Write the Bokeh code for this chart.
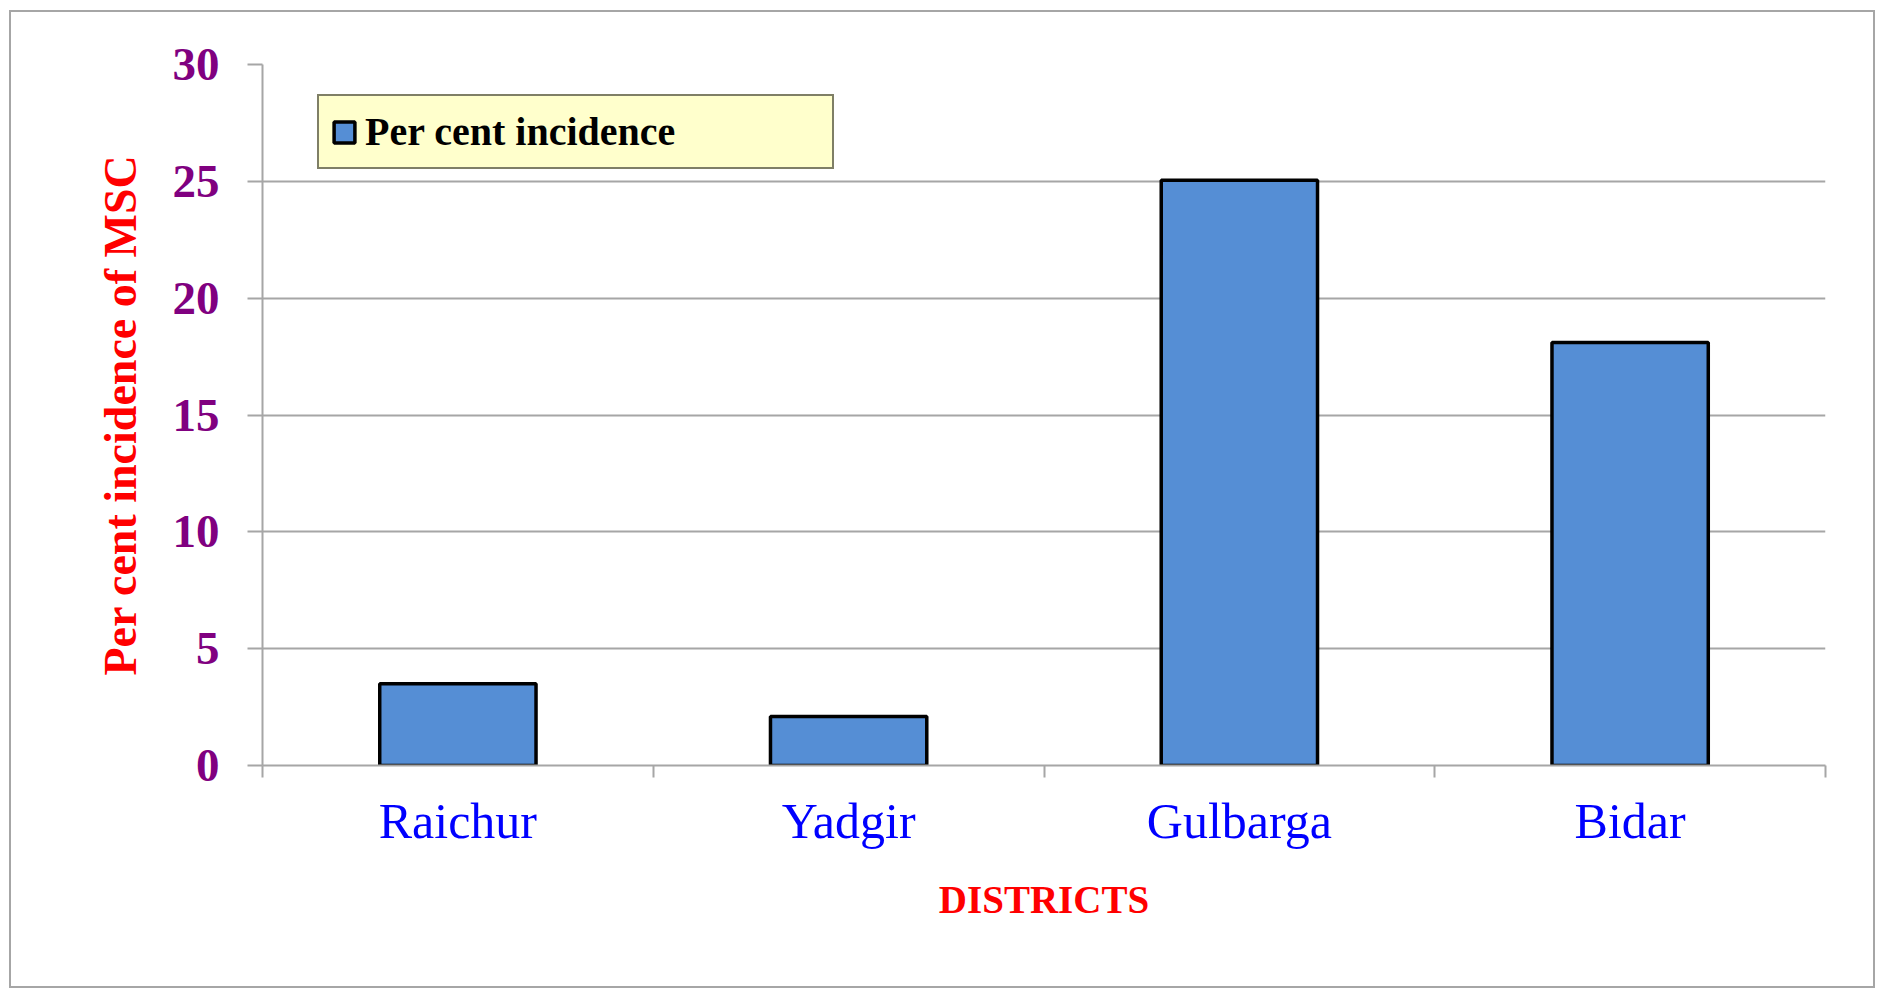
import numpy as np
from bokeh.plotting import figure
from bokeh.models import Range1d, FixedTicker, ColumnDataSource
from bokeh.embed import file_html
from bokeh.resources import INLINE

# ---- data ----
districts = ["Raichur", "Yadgir", "Gulbarga", "Bidar"]
incidence = [3.5, 2.1, 25.05, 18.1]
y_ticks = [0, 5, 10, 15, 20, 25, 30]
series_name = "Per cent incidence"

centers = [i + 0.5 for i in range(len(districts))]
bounds = list(range(len(districts) + 1))

src = ColumnDataSource(dict(x=centers, top=incidence, name=districts))

FONT = "Liberation Serif"
GRAY = "#a6a6a6"

p = figure(width=1866, height=978, output_backend="svg", toolbar_location=None,
           x_range=Range1d(0, len(districts)), y_range=Range1d(0, y_ticks[-1]),
           min_border_left=251, min_border_right=52, min_border_top=52,
           min_border_bottom=225)
p.styles = {"border": "2px solid #a6a6a6", "margin-left": "9px", "margin-top": "10px"}
p.outline_line_color = None
p.background_fill_color = "white"
p.border_fill_color = "white"

p.vbar(x="x", top="top", width=0.4, bottom=0, source=src,
       fill_color="#558ed5", line_color="black", line_width=3.5,
       legend_label=series_name)

# grid
p.xgrid.visible = False
p.ygrid.grid_line_color = GRAY
p.ygrid.grid_line_width = 2
p.ygrid.ticker = FixedTicker(ticks=y_ticks)

# y axis
ya = p.yaxis[0]
ya.ticker = FixedTicker(ticks=y_ticks)
ya.axis_line_color = GRAY
ya.axis_line_width = 2
ya.major_tick_line_color = GRAY
ya.major_tick_line_width = 2
ya.major_tick_out = 15
ya.major_tick_in = 0
ya.minor_tick_line_color = None
ya.major_label_text_font = FONT
ya.major_label_text_font_style = "bold"
ya.major_label_text_font_size = "47px"
ya.major_label_text_color = "#800080"
ya.major_label_standoff = 28
ya.axis_label = "Per cent incidence of MSC"
ya.axis_label_text_font = FONT
ya.axis_label_text_font_style = "bold"
ya.axis_label_text_font_size = "46px"
ya.axis_label_text_color = "#ff0000"
ya.axis_label_standoff = 24

# x axis
xa = p.xaxis[0]
xa.ticker = FixedTicker(ticks=centers, minor_ticks=bounds)
xa.major_label_overrides = {c: d for c, d in zip(centers, districts)}
xa.axis_line_color = GRAY
xa.axis_line_width = 2
xa.major_tick_line_color = None
xa.major_tick_out = 12
xa.major_tick_in = 0
xa.minor_tick_line_color = GRAY
xa.minor_tick_line_width = 2
xa.minor_tick_out = 12
xa.minor_tick_in = 0
xa.major_label_text_font = FONT
xa.major_label_text_font_size = "50px"
xa.major_label_text_color = "#0000ff"
xa.major_label_standoff = 15
xa.axis_label = "DISTRICTS"
xa.axis_label_text_font = FONT
xa.axis_label_text_font_style = "bold"
xa.axis_label_text_font_size = "39px"
xa.axis_label_text_color = "#ff0000"
xa.axis_label_standoff = 26

# legend
lg = p.legend[0]
lg.location = (55, 596)
lg.margin = 0
lg.padding = 12
lg.background_fill_color = "#ffffcc"
lg.background_fill_alpha = 1
lg.border_line_color = "black"
lg.border_line_width = 2
lg.glyph_width = 26
lg.glyph_height = 26
lg.label_standoff = 8
lg.label_height = 44
lg.label_width = 455
lg.label_text_font = FONT
lg.label_text_font_style = "bold"
lg.label_text_font_size = "40px"
lg.label_text_color = "black"

open("out.html", "w").write(file_html(p, INLINE))
